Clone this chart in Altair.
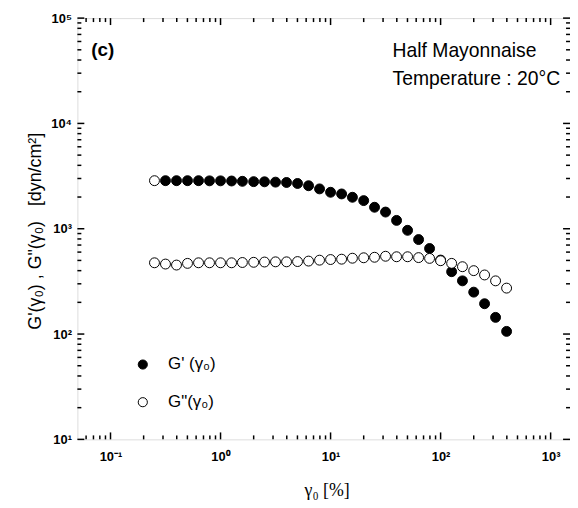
import altair as alt
import pandas as pd

# ---- data ----
strain = [0.251, 0.316, 0.398, 0.501, 0.631, 0.794, 1.0, 1.26, 1.58, 2.0, 2.51,
          3.16, 3.98, 5.01, 6.31, 7.94, 10.0, 12.6, 15.8, 20.0, 25.1, 31.6,
          39.8, 50.1, 63.1, 79.4, 100.0, 126.0, 158.0, 200.0, 251.0, 316.0, 398.0]
g_storage = [2860, 2860, 2860, 2860, 2860, 2850, 2850, 2840, 2820, 2800, 2790,
             2770, 2750, 2690, 2560, 2390, 2220, 2140, 1990, 1850, 1600, 1440,
             1200, 966, 789, 649, 504, 391, 320, 250, 194, 144, 106]
g_loss = [475, 462, 452, 469, 475, 475, 475, 475, 478, 480, 483,
          485, 485, 488, 493, 503, 510, 514, 525, 530, 536, 548,
          542, 542, 532, 523, 497, 469, 436, 400, 364, 320, 273]
series_names = ["G' (\u03b3\u2080)", 'G"(\u03b3\u2080)']

x_tick_values = [0.1, 1, 10, 100, 1000]
x_tick_labels = ["10\u207b\u00b9", "10\u2070", "10\u00b9", "10\u00b2", "10\u00b3"]
y_tick_values = [10, 100, 1000, 10000, 100000]
y_tick_labels = ["10\u00b9", "10\u00b2", "10\u00b3", "10\u2074", "10\u2075"]

x_domain = [0.05, 1500]
y_domain = [10, 100000]

W, H = 497, 425
FONT = "Liberation Sans"
NB = "\u00a0"


def label_expr(values, labels):
    expr = "''"
    for v, l in zip(reversed(values), reversed(labels)):
        expr = f"abs(datum.value - {v}) < {v} * 0.01 ? '{l}' : ({expr})"
    return expr


def minor_ticks(lo, hi):
    out = []
    e = -3
    while 10 ** e <= hi:
        for k in range(2, 10):
            v = k * 10 ** e
            if lo < v < hi:
                out.append(v)
        e += 1
    return out


xscale = alt.Scale(type="log", domain=x_domain, nice=False)
yscale = alt.Scale(type="log", domain=y_domain, nice=False)

# long table: G' rows first so G'' (white filled) is drawn on top
rows = []
for i, (s, v) in enumerate(zip(strain, g_storage)):
    rows.append({"x": s, "v": v, "series": series_names[0], "i": i})
for i, (s, v) in enumerate(zip(strain, g_loss)):
    rows.append({"x": s, "v": v, "series": series_names[1], "i": i})
df = pd.DataFrame(rows)

xaxis = alt.Axis(
    orient="bottom",
    values=x_tick_values, labelExpr=label_expr(x_tick_values, x_tick_labels),
    ticks=False, tickSize=0, domain=False, grid=False,
    labelFont=FONT, labelFontSize=13, labelFontWeight="bold", labelColor="black",
    labelPadding=11, labelBaseline="top", labelOverlap=False,
    title="\u03b3\u2080 [%]", titleFont="Liberation Serif", titleFontSize=18,
    titleFontWeight="normal", titleColor="black",
    titleX=W / 2 + 3, titleY=52, titleBaseline="middle", titleAlign="center",
)
yaxis = alt.Axis(
    orient="left",
    values=y_tick_values, labelExpr=label_expr(y_tick_values, y_tick_labels),
    ticks=False, tickSize=0, domain=False, grid=False,
    labelFont=FONT, labelFontSize=13, labelFontWeight="bold", labelColor="black",
    labelPadding=6, labelOverlap=False,
    title=f"G'(\u03b3\u2080){NB},{NB}G\"(\u03b3\u2080){NB}{NB}{NB}[dyn/cm\u00b2]",
    titleFont=FONT, titleFontSize=18, titleFontWeight="normal", titleColor="black",
    titleX=-42, titleY=H / 2 + 2, titleAngle=270, titleBaseline="middle",
    titleAlign="center",
)

X = lambda f: alt.X(f, scale=xscale, axis=xaxis)
Y = lambda f: alt.Y(f, scale=yscale, axis=yaxis)

main_pts = alt.Chart(df).transform_filter(
    f"!(datum.series == \"{series_names[0]}\" && datum.i == 0)"
).mark_point(shape="circle", size=100, stroke="black", strokeWidth=1,
             opacity=1, fillOpacity=1).encode(
    x=X("x:Q"),
    y=Y("v:Q"),
    fill=alt.Fill("series:N", scale=alt.Scale(domain=series_names, range=["black", "white"]),
                  legend=alt.Legend(
                      title=None, orient="none", legendX=57.5, legendY=341,
                      padding=0, symbolType="circle", symbolSize=85,
                      symbolStrokeColor="black", symbolStrokeWidth=1,
                      labelFont=FONT, labelFontSize=17, labelColor="black",
                      labelOffset=17, rowPadding=20, labelLimit=200)),
)

first_open = alt.Chart(df).transform_filter(
    f"datum.series == \"{series_names[0]}\" && datum.i == 0"
).mark_point(shape="circle", size=100, stroke="black", strokeWidth=1,
             fill="white", opacity=1, fillOpacity=1).encode(
    x=X("x:Q"),
    y=Y("v:Q"),
)

# inward tick marks on all four sides, placed through the log scales
xmaj = pd.DataFrame({"x": x_tick_values})
xmin = pd.DataFrame({"x": minor_ticks(*x_domain)})
ymaj = pd.DataFrame({"v": y_tick_values})
ymin = pd.DataFrame({"v": minor_ticks(*y_domain)})

tick_layers = []
for d, L in [(xmaj, 7), (xmin, 4)]:
    tick_layers.append(alt.Chart(d).mark_rule(color="black", strokeWidth=1.5).encode(
        x=X("x:Q"), y=alt.value(H), y2=alt.value(H - L)))
    tick_layers.append(alt.Chart(d).mark_rule(color="black", strokeWidth=1.5).encode(
        x=X("x:Q"), y=alt.value(0), y2=alt.value(L)))
for d, L in [(ymaj, 7), (ymin, 4)]:
    tick_layers.append(alt.Chart(d).mark_rule(color="black", strokeWidth=1.5).encode(
        y=Y("v:Q"), x=alt.value(0), x2=alt.value(L)))
    tick_layers.append(alt.Chart(d).mark_rule(color="black", strokeWidth=1.5).encode(
        y=Y("v:Q"), x=alt.value(W), x2=alt.value(W - L)))

# annotations
def note(text, x, y, size=19.5, weight="normal"):
    return alt.Chart(pd.DataFrame({"t": [text]})).mark_text(
        font=FONT, fontSize=size, fontWeight=weight, align="left",
        baseline="middle", color="black").encode(
        text="t:N", x=alt.value(x), y=alt.value(y))

notes = [
    note("(c)", 14, 32, 19, "bold"),
    note("Half Mayonnaise", 318, 33),
    note("Temperature : 20\u00b0C", 318, 61),
]

chart = alt.layer(
    main_pts, first_open, *tick_layers, *notes
).properties(
    width=W, height=H,
    padding={"left": 70, "top": 8, "right": 0, "bottom": 62},
    autosize=alt.AutoSizeParams(type="none"),
).configure_view(
    stroke="black", strokeWidth=2
).configure(background="white")

chart.save("out.html", embed_options={"renderer": "svg", "actions": False})
